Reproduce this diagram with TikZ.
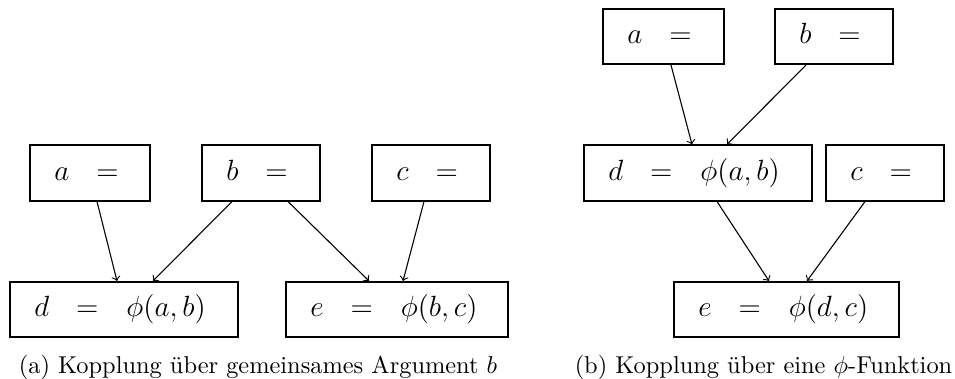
\documentclass[tikz,border=0pt]{standalone}
\usepackage{fontspec}
\usepackage{amsmath,amssymb}
\usepackage{tikz}
\usetikzlibrary{calc}

\newcommand{\zuw}[2]{$#1\hspace{11pt}{=}\hspace{11.5pt}#2$}

\begin{document}
\begin{tikzpicture}[x=0.41pt, y=-0.41pt,
    varbox/.style={draw, line width=0.65pt, inner xsep=10pt, text width=#1,
      align=left, minimum height=22.75pt, text height=9pt, text depth=3pt,
      font=\large},
    pfeil/.style={->, line width=0.45pt}]
  \useasboundingbox (0,0) rectangle (955,379);
  % (a) gemeinsames Argument
  \node[varbox=29.2pt] (la) at (90,173)    {\zuw{a}{}};
  \node[varbox=28.4pt] (lb) at (261,173)   {\zuw{b}{}};
  \node[varbox=28.4pt] (lc) at (431,173)   {\zuw{c}{}};
  \node[varbox=73.5pt] (ld) at (124,309.5) {\zuw{d}{\phi(a,b)}};
  \node[varbox=71pt]   (le) at (397,309.5) {\zuw{e}{\phi(b,c)}};
  \draw[pfeil] ($(la.south)+(7,0)$)   -- ($(ld.north)+(-7,0)$);
  \draw[pfeil] ($(lb.south)+(-29,0)$) -- ($(ld.north)+(29,0)$);
  \draw[pfeil] ($(lb.south)+(27,0)$)  -- ($(le.north)+(-28,0)$);
  \draw[pfeil] ($(lc.south)+(-7,0)$)  -- ($(le.north)+(6,0)$);
  \node[anchor=base] (capa) at (258,373) {(a) Kopplung über gemeinsames Argument $b$};
  % (b) phi-Funktion
  \node[varbox=29.6pt] (ra) at (663.5,36.5) {\zuw{a}{}};
  \node[varbox=28.4pt] (rb) at (834,36.5)   {\zuw{b}{}};
  \node[varbox=73.5pt] (rd) at (698,173)    {\zuw{d}{\phi(a,b)}};
  \node[varbox=28.4pt] (rc) at (885,173)    {\zuw{c}{}};
  \node[varbox=72.25pt] (re) at (786.5,309.5) {\zuw{e}{\phi(d,c)}};
  \draw[pfeil] ($(ra.south)+(7.5,0)$) -- ($(rd.north)+(-6,0)$);
  \draw[pfeil] ($(rb.south)+(-28,0)$) -- ($(rd.north)+(29,0)$);
  \draw[pfeil] ($(rd.south)+(19,0)$)  -- ($(re.north)+(-17.5,0)$);
  \draw[pfeil] ($(rc.south)+(-20,0)$) -- ($(re.north)+(20.5,0)$);
  \node[anchor=base] (capb) at (763.5,373) {(b) Kopplung über eine $\phi$-Funktion};
\end{tikzpicture}
\end{document}
